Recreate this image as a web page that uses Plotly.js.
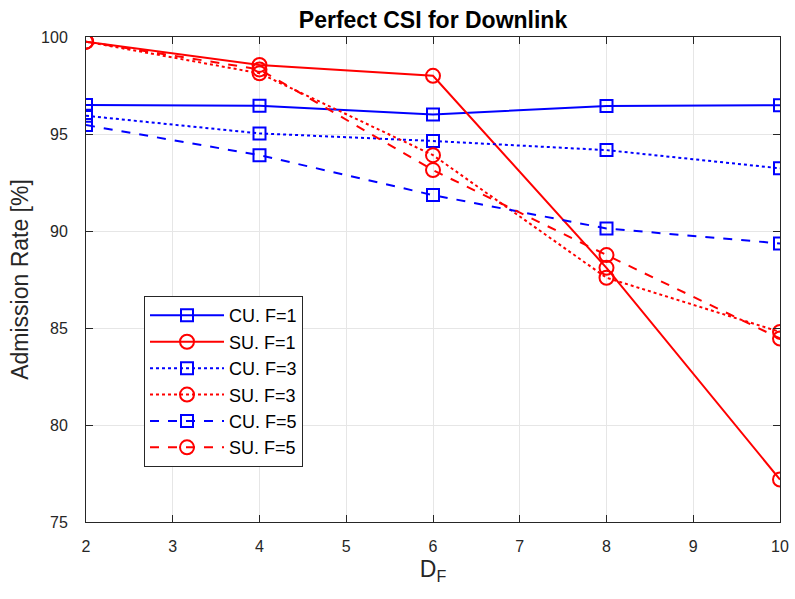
<!DOCTYPE html>
<html>
<head>
<meta charset="utf-8">
<script src="https://cdn.plot.ly/plotly-3.0.1.min.js"></script>
<style>html,body{margin:0;padding:0;background:#fff;}#chart{width:795px;height:599px;}</style>
</head>
<body>
<div id="chart"></div>
<script>
const DF = [2, 4, 6, 8, 10];
const CU_F1 = [96.49, 96.46, 96.01, 96.44, 96.48];
const SU_F1 = [99.76, 98.56, 98.0, 88.1, 77.19];
const CU_F3 = [95.94, 95.03, 94.64, 94.17, 93.23];
const SU_F3 = [99.76, 98.13, 93.91, 87.59, 84.8];
const CU_F5 = [95.46, 93.91, 91.85, 90.13, 89.36];
const SU_F5 = [99.76, 98.33, 93.14, 88.76, 84.46];
const seriesNames = ['CU. F=1', 'SU. F=1', 'CU. F=3', 'SU. F=3', 'CU. F=5', 'SU. F=5'];

const blue = '#0000ff', red = '#ff0000';
function tr(name, y, color, dash, symbol) {
  return {
    x: DF, y: y, name: name, type: 'scatter', mode: 'lines+markers',
    line: {color: color, width: 2, dash: dash},
    marker: {symbol: symbol, size: symbol === 'square-open' ? 12 : 14, color: color, line: {color: color, width: 2}}
  };
}
const data = [
  tr(seriesNames[0], CU_F1, blue, 'solid', 'square-open'),
  tr(seriesNames[1], SU_F1, red, 'solid', 'circle-open'),
  tr(seriesNames[2], CU_F3, blue, 'dot', 'square-open'),
  tr(seriesNames[3], SU_F3, red, 'dot', 'circle-open'),
  tr(seriesNames[4], CU_F5, blue, 'dash', 'square-open'),
  tr(seriesNames[5], SU_F5, red, 'dash', 'circle-open')
];
const FONT = 'Liberation Sans, Arial, sans-serif';
const axisCommon = {
  showline: true, linecolor: '#262626', linewidth: 1, mirror: 'ticks',
  ticks: 'inside', ticklen: 7, tickcolor: '#262626', tickwidth: 1,
  showgrid: true, gridcolor: '#e6e6e6', gridwidth: 1, zeroline: false,
  tickfont: {family: FONT, size: 16, color: '#262626'}
};
const layout = {
  width: 795, height: 599,
  margin: {l: 86, r: 15, t: 37, b: 77},
  paper_bgcolor: '#ffffff', plot_bgcolor: '#ffffff',
  font: {family: FONT, color: '#262626'},
  title: {text: '<b>Perfect CSI for Downlink</b>', x: 0.5, xref: 'paper', y: 1 - 20/599, yanchor: 'middle',
          font: {size: 23, color: '#000000', family: FONT}},
  xaxis: Object.assign({}, axisCommon, {
    range: [2, 10], tick0: 2, dtick: 1, ticklabelstandoff: 10,
    title: {text: 'D<sub>F</sub>', font: {size: 23, color: '#262626'}, standoff: 6}
  }),
  yaxis: Object.assign({}, axisCommon, {
    range: [75, 100], tick0: 75, dtick: 5, ticklabelstandoff: 14,
    title: {text: 'Admission Rate [%]', font: {size: 23, color: '#262626'}, standoff: 6}
  }),
  showlegend: true,
  legend: {
    x: (144 - 86) / 694, y: (521.7 - 296) / 484.7, xanchor: 'left', yanchor: 'top',
    bgcolor: '#ffffff', bordercolor: '#262626', borderwidth: 1,
    font: {size: 18, color: '#000000', family: FONT},
    itemwidth: 74, tracegroupgap: 0
  }
};
Plotly.newPlot('chart', data, layout, {displayModeBar: false, staticPlot: true});
</script>
</body>
</html>
